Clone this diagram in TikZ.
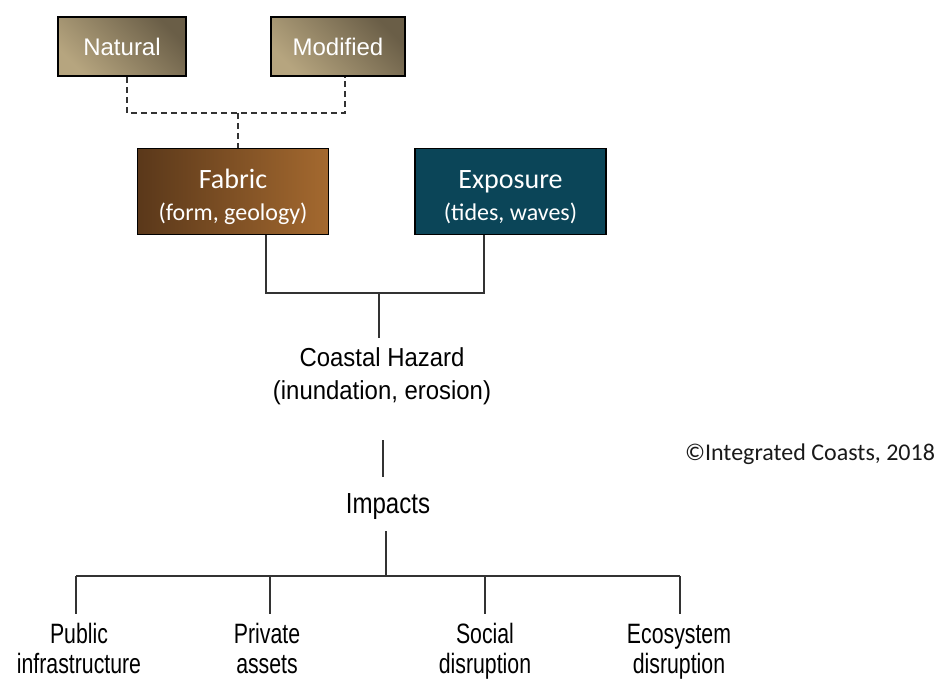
\documentclass[tikz,border=0pt]{standalone}
\usepackage{fontspec}
\setmainfont{Liberation Sans}
\newfontfamily\calfont{Carlito}
\newfontfamily\hazfont[FakeStretch=0.92]{Liberation Sans}
\newfontfamily\impfont[FakeStretch=0.83]{Liberation Sans}
\newfontfamily\leaffont[FakeStretch=0.76]{Liberation Sans}
\usetikzlibrary{positioning,calc}
\definecolor{tanlight}{HTML}{B6A57F}
\definecolor{tandark}{HTML}{6A5E47}
\definecolor{fabdark}{HTML}{5A381A}
\definecolor{fablight}{HTML}{A4692F}
\definecolor{expocol}{HTML}{0B4558}
\definecolor{linegray}{HTML}{333333}
\newcommand{\subtxtfont}{\fontsize{24}{28}\selectfont}
\tikzset{
  srcbox/.style={draw=black,line width=1.6pt,text=white,
    shading=axis,top color=tandark,bottom color=tanlight,shading angle=-45,
    font=\fontsize{24}{28}\selectfont,inner sep=0pt},
  drvbox/.style={draw=black,line width=1.6pt,text=white,align=center,
    font=\calfont\fontsize{28}{33}\selectfont,inner sep=0pt,
    minimum width=191pt,minimum height=86pt},
  cline/.style={linegray,line width=1.2pt},
  dline/.style={black!80,line width=1.5pt,dash pattern=on 6pt off 4pt},
  midtxt/.style={align=center,inner sep=2pt},
  leaf/.style={align=center,font=\leaffont\fontsize{28}{30}\selectfont,inner sep=2pt},
}
\begin{document}
\begin{tikzpicture}[x=1pt,y=-1pt]
  \useasboundingbox (0,0) rectangle (939,679);
  % source boxes
  \node[srcbox,minimum width=128pt,minimum height=59pt] (nat) at (122,46.5) {Natural};
  \node[srcbox,minimum width=134pt,minimum height=59pt] (mod) at (338,46.5) {Modified};
  % drivers
  \node[drvbox,left color=fabdark,right color=fablight] (fab) at (233,191.5)
    {\rule{0pt}{31pt}Fabric\\[-1pt]{\subtxtfont(form, geology)}};
  \node[drvbox,fill=expocol] (expo) at (510.5,191.5)
    {\rule{0pt}{29pt}Exposure\\[-1pt]{\subtxtfont(tides, waves)}};
  \node[midtxt,font=\hazfont\fontsize{26}{33}\selectfont] (hazard) at (382,376)
    {Coastal Hazard\\(inundation, erosion)};
  \node[midtxt,font=\impfont\fontsize{29}{33}\selectfont] (impacts) at (388,507) {Impacts};
  \node[font=\calfont\fontsize{24}{28}\selectfont,text=black!90] (copyr) at (810,454)
    {\textcopyright Integrated Coasts, 2018};
  % impacts
  \node[leaf] (pub) at (79,648) {Public\\infrastructure};
  \node[leaf] (priv) at (267,648) {Private\\assets};
  \node[leaf] (soc) at (485,651) {Social\\disruption};
  \node[leaf] (eco) at (679,652) {Ecosystem\\disruption};

  \coordinate (dj) at (238,113);
  \draw[dline] (nat.south -| 127,0) |- (dj) -| (mod.south -| 345,0);
  \draw[dline] (dj) -- (dj |- fab.north);

  \coordinate (fx) at (266,293);
  \coordinate (ex) at (484,293);
  \coordinate (hj) at (379,293);
  \coordinate (hz) at (379,338);
  \coordinate (h1) at (383,440);
  \coordinate (h2) at (383,477);
  \coordinate (im) at (386,531);
  \draw[cline] (fx |- fab.south) -- (fx) -- (ex) -- (ex |- expo.south);
  \draw[cline] (hj) -- (hz);
  \draw[cline] (h1) -- (h2);

  \coordinate (b1) at (76,576);
  \coordinate (b2) at (270,576);
  \coordinate (b3) at (485,576);
  \coordinate (b4) at (680,576);
  \draw[cline] (b1) -- (b4);
  \draw[cline] (im) -- (im |- b1);
  \foreach \b in {b1,b2,b3,b4}{\draw[cline] (\b) -- ++(0,38);}
\end{tikzpicture}
\end{document}
